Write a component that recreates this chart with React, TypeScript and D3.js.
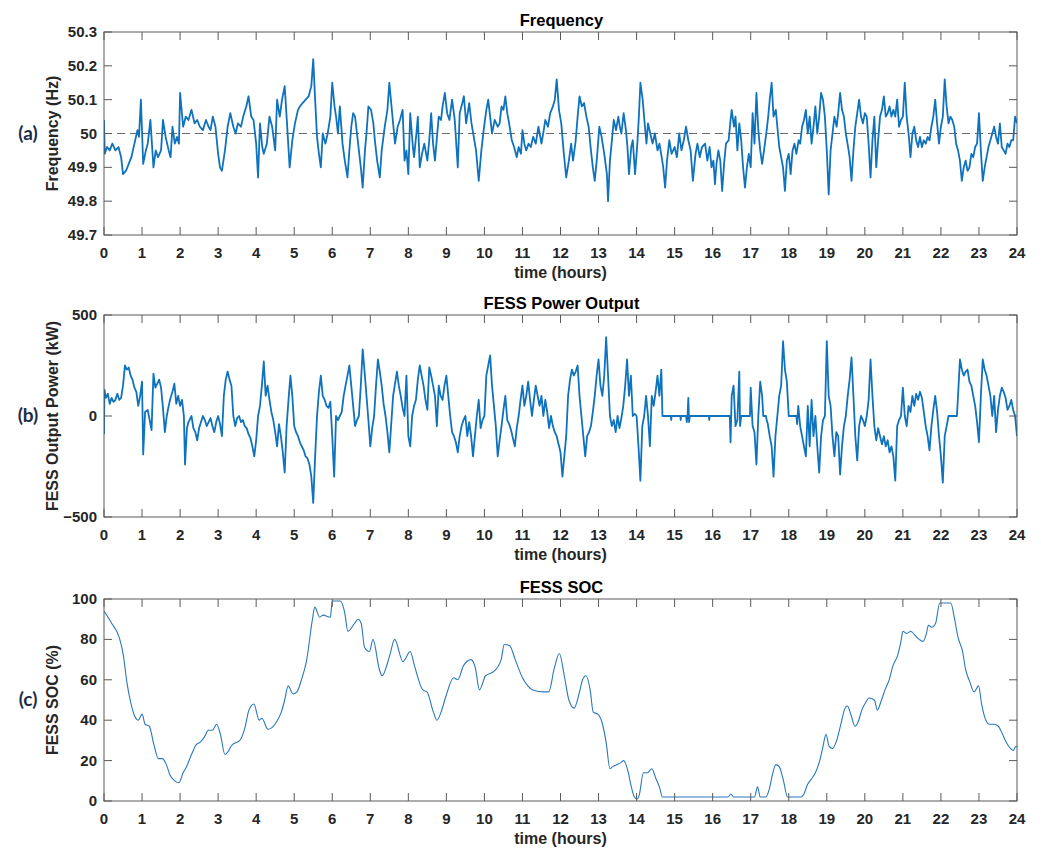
import React from 'react';
import * as d3 from 'd3';

// Axis ticks
const hourTicks = [0, 1, 2, 3, 4, 5, 6, 7, 8, 9, 10, 11, 12, 13, 14, 15, 16, 17, 18, 19, 20, 21, 22, 23, 24];
const freqTicks = [49.7, 49.8, 49.9, 50, 50.1, 50.2, 50.3];
const powerTicks = [-500, 0, 500];
const socTicks = [0, 20, 40, 60, 80, 100];

// Grid frequency (Hz) against time of day (hours)
const frequency: [number, number][] = [
  [0, 50.04], [0.02, 49.94], [0.08, 49.96], [0.15, 49.95], [0.22, 49.97], [0.3, 49.95], [0.38, 49.96], [0.45, 49.93],
  [0.5, 49.88], [0.58, 49.89], [0.65, 49.91], [0.72, 49.93], [0.8, 49.97], [0.88, 50.01], [0.92, 49.99], [0.97, 50.1],
  [1.03, 49.91], [1.1, 49.95], [1.15, 49.97], [1.22, 50.04], [1.3, 49.9], [1.36, 49.95], [1.42, 49.93], [1.5, 49.95],
  [1.55, 50.04], [1.62, 49.99], [1.7, 49.95], [1.75, 49.93], [1.8, 50.02], [1.86, 49.97], [1.92, 49.99], [1.97, 49.97],
  [2.0, 50.12], [2.08, 50.02], [2.15, 50.05], [2.22, 50.04], [2.3, 50.07], [2.38, 50.03], [2.45, 50.04], [2.52, 50.02],
  [2.6, 50.01], [2.68, 50.04], [2.75, 50.02], [2.8, 50.01], [2.86, 50.05], [2.93, 50.02], [3.0, 49.94], [3.05, 49.9],
  [3.1, 49.89], [3.18, 49.95], [3.25, 50.02], [3.32, 50.06], [3.4, 50.02], [3.46, 50.0], [3.52, 50.03], [3.6, 50.02],
  [3.66, 50.05], [3.74, 50.08], [3.8, 50.11], [3.87, 50.05], [3.93, 50.04], [4.0, 49.97], [4.05, 49.87], [4.1, 50.03],
  [4.16, 49.96], [4.2, 49.94], [4.28, 49.97], [4.35, 50.05], [4.42, 50.02], [4.5, 49.95], [4.55, 50.1], [4.62, 50.05],
  [4.68, 50.1], [4.75, 50.14], [4.8, 50.05], [4.88, 49.9], [4.95, 49.98], [5.02, 50.03], [5.1, 50.07], [5.15, 50.08],
  [5.22, 50.09], [5.3, 50.1], [5.38, 50.11], [5.45, 50.14], [5.5, 50.22], [5.55, 50.1], [5.6, 49.99], [5.65, 49.94],
  [5.7, 49.9], [5.75, 50.0], [5.82, 49.97], [5.88, 50.0], [5.95, 50.05], [6.0, 50.15], [6.06, 50.08], [6.1, 50.05],
  [6.15, 50.0], [6.2, 50.08], [6.27, 49.97], [6.33, 49.92], [6.4, 49.87], [6.45, 49.95], [6.5, 50.02], [6.55, 50.06],
  [6.6, 50.05], [6.65, 50.0], [6.7, 49.95], [6.76, 49.89], [6.8, 49.84], [6.86, 49.95], [6.9, 50.0], [6.95, 50.08],
  [7.02, 50.07], [7.08, 50.03], [7.12, 49.98], [7.18, 49.92], [7.25, 49.87], [7.3, 49.95], [7.38, 50.02], [7.45, 50.07],
  [7.5, 50.15], [7.55, 50.09], [7.6, 50.03], [7.65, 49.97], [7.72, 50.02], [7.78, 50.04], [7.85, 50.07], [7.9, 49.92],
  [7.95, 49.95], [8.0, 49.88], [8.05, 50.06], [8.12, 49.96], [8.15, 49.93], [8.22, 50.01], [8.25, 50.05], [8.3, 49.9],
  [8.36, 49.94], [8.42, 49.97], [8.5, 49.92], [8.55, 49.98], [8.6, 50.06], [8.65, 49.97], [8.7, 49.92], [8.76, 50.0],
  [8.8, 50.05], [8.86, 50.04], [8.9, 50.08], [8.96, 50.12], [9.02, 50.06], [9.08, 50.04], [9.15, 50.1], [9.22, 50.04],
  [9.3, 49.9], [9.35, 50.06], [9.42, 50.09], [9.46, 50.11], [9.52, 50.03], [9.6, 50.09], [9.66, 50.03], [9.72, 49.99],
  [9.78, 49.95], [9.85, 49.86], [9.92, 49.95], [9.98, 50.01], [10.05, 50.07], [10.1, 50.1], [10.15, 50.05], [10.2, 50.0],
  [10.27, 50.04], [10.35, 50.02], [10.4, 50.03], [10.45, 50.08], [10.5, 50.07], [10.55, 50.11], [10.6, 50.06], [10.65, 50.03],
  [10.72, 49.98], [10.78, 49.96], [10.85, 49.93], [10.9, 49.96], [10.96, 49.94], [11.0, 50.01], [11.05, 49.97], [11.1, 49.95],
  [11.16, 49.97], [11.22, 49.96], [11.28, 49.99], [11.35, 49.97], [11.42, 50.02], [11.5, 49.97], [11.56, 50.01], [11.6, 50.04],
  [11.67, 50.02], [11.73, 50.06], [11.8, 50.08], [11.85, 50.1], [11.9, 50.16], [11.96, 50.07], [12.02, 50.03], [12.08, 49.95],
  [12.15, 49.87], [12.22, 49.92], [12.28, 49.97], [12.33, 49.92], [12.4, 49.98], [12.45, 50.05], [12.5, 50.11], [12.56, 50.08],
  [12.62, 50.09], [12.68, 50.05], [12.74, 50.02], [12.8, 49.95], [12.85, 49.9], [12.9, 49.86], [12.96, 49.93], [13.02, 50.02],
  [13.08, 49.99], [13.15, 49.94], [13.22, 49.88], [13.25, 49.8], [13.3, 49.92], [13.36, 49.99], [13.4, 50.04], [13.46, 50.01],
  [13.52, 50.05], [13.56, 50.02], [13.6, 50.0], [13.66, 50.06], [13.72, 50.01], [13.76, 49.96], [13.8, 49.88], [13.86, 49.96],
  [13.9, 49.98], [13.96, 49.88], [14.02, 49.97], [14.06, 50.05], [14.1, 50.15], [14.16, 50.1], [14.22, 50.02], [14.26, 49.97],
  [14.3, 50.03], [14.36, 50.0], [14.42, 49.97], [14.48, 50.0], [14.55, 49.95], [14.6, 49.97], [14.66, 49.93], [14.7, 49.9],
  [14.75, 49.84], [14.8, 49.92], [14.86, 49.98], [14.92, 49.94], [15.0, 49.96], [15.06, 49.93], [15.12, 50.0], [15.18, 49.95],
  [15.24, 49.98], [15.3, 50.02], [15.36, 49.98], [15.42, 49.95], [15.48, 49.86], [15.55, 49.94], [15.6, 49.97], [15.66, 49.93],
  [15.72, 49.96], [15.8, 49.97], [15.86, 49.92], [15.92, 49.96], [15.97, 49.9], [16.02, 49.92], [16.06, 49.85], [16.1, 49.91],
  [16.15, 49.95], [16.2, 49.92], [16.25, 49.83], [16.3, 49.91], [16.35, 49.97], [16.42, 49.98], [16.47, 50.04], [16.5, 50.07],
  [16.56, 50.02], [16.6, 50.05], [16.65, 49.95], [16.7, 50.03], [16.75, 49.98], [16.8, 49.9], [16.85, 49.84], [16.9, 49.9],
  [16.95, 49.94], [17.0, 49.9], [17.05, 50.06], [17.1, 49.97], [17.15, 50.12], [17.2, 50.01], [17.25, 49.95], [17.3, 49.91],
  [17.35, 49.95], [17.42, 50.01], [17.46, 50.05], [17.5, 50.1], [17.55, 50.15], [17.6, 50.05], [17.66, 50.07], [17.7, 50.02],
  [17.75, 49.96], [17.8, 49.93], [17.85, 49.9], [17.9, 49.83], [17.95, 49.92], [18.0, 49.94], [18.05, 49.88], [18.1, 49.95],
  [18.15, 49.97], [18.2, 49.94], [18.26, 49.98], [18.3, 49.97], [18.35, 50.02], [18.4, 50.04], [18.45, 50.07], [18.5, 50.0],
  [18.55, 50.05], [18.6, 49.97], [18.66, 50.03], [18.7, 50.08], [18.75, 50.0], [18.8, 50.05], [18.85, 50.12], [18.9, 50.1],
  [18.95, 50.05], [19.0, 49.95], [19.05, 49.82], [19.1, 49.95], [19.15, 50.0], [19.2, 50.05], [19.26, 50.02], [19.3, 50.06],
  [19.35, 50.12], [19.4, 50.07], [19.45, 50.05], [19.5, 50.0], [19.56, 49.96], [19.6, 49.93], [19.65, 49.86], [19.7, 49.95],
  [19.75, 50.02], [19.8, 50.06], [19.85, 50.1], [19.9, 50.05], [19.95, 50.03], [20.0, 50.06], [20.05, 50.05], [20.1, 49.97],
  [20.15, 49.87], [20.2, 49.98], [20.25, 50.05], [20.3, 49.9], [20.35, 49.98], [20.4, 50.05], [20.45, 50.07], [20.5, 50.11],
  [20.55, 50.05], [20.6, 50.06], [20.65, 50.08], [20.7, 50.05], [20.75, 50.07], [20.8, 50.05], [20.85, 50.1], [20.9, 50.02],
  [20.95, 50.04], [21.0, 50.05], [21.05, 50.15], [21.1, 50.05], [21.15, 50.0], [21.2, 49.93], [21.25, 50.0], [21.3, 50.02],
  [21.35, 49.98], [21.4, 49.96], [21.45, 49.99], [21.5, 49.96], [21.55, 49.98], [21.6, 49.97], [21.65, 49.99], [21.7, 49.98],
  [21.75, 50.02], [21.8, 50.05], [21.85, 50.1], [21.9, 50.03], [21.95, 49.97], [22.0, 50.02], [22.05, 50.05], [22.1, 50.16],
  [22.15, 50.08], [22.2, 50.03], [22.25, 50.05], [22.3, 50.04], [22.35, 50.02], [22.4, 49.97], [22.45, 49.95], [22.5, 49.92],
  [22.55, 49.86], [22.6, 49.9], [22.65, 49.92], [22.7, 49.89], [22.75, 49.9], [22.8, 49.94], [22.85, 49.93], [22.9, 49.96],
  [22.95, 49.97], [23.0, 50.06], [23.05, 49.95], [23.1, 49.86], [23.15, 49.9], [23.2, 49.93], [23.25, 49.96], [23.3, 49.98],
  [23.35, 50.0], [23.4, 50.02], [23.45, 49.99], [23.5, 49.97], [23.55, 50.03], [23.6, 49.96], [23.65, 49.95], [23.7, 49.94],
  [23.75, 49.97], [23.8, 49.96], [23.85, 49.98], [23.9, 49.98], [23.95, 50.05], [24.0, 50.03],
];

// Flywheel output power (kW)
const power: [number, number][] = [
  [0, -90], [0.01, 130], [0.05, 90], [0.1, 110], [0.15, 60], [0.2, 90], [0.25, 70], [0.3, 80], [0.35, 110], [0.4, 80],
  [0.45, 90], [0.5, 150], [0.55, 250], [0.6, 230], [0.65, 240], [0.7, 200], [0.75, 180], [0.8, 140], [0.85, 120], [0.9, 50],
  [0.95, 100], [1.0, 170], [1.03, -190], [1.08, 20], [1.15, 30], [1.2, -20], [1.25, -70], [1.3, 210], [1.35, 140], [1.4, 160],
  [1.45, 180], [1.5, 140], [1.55, 40], [1.6, -80], [1.65, 0], [1.7, 50], [1.75, 90], [1.8, 120], [1.85, 160], [1.9, 60],
  [1.95, 100], [2.0, 50], [2.05, 80], [2.1, 0], [2.13, -240], [2.18, -60], [2.22, -30], [2.3, 0], [2.35, -60], [2.4, -80],
  [2.45, -120], [2.5, -60], [2.55, -30], [2.6, 0], [2.65, -20], [2.7, -50], [2.75, -30], [2.8, -10], [2.85, -50], [2.9, -80],
  [2.95, -30], [3.0, 0], [3.05, -40], [3.1, -100], [3.15, 100], [3.2, 180], [3.25, 220], [3.3, 180], [3.35, 150], [3.4, 0],
  [3.45, -50], [3.5, -10], [3.55, 0], [3.6, -30], [3.65, -20], [3.7, -50], [3.75, -60], [3.8, -90], [3.85, -110], [3.9, -150],
  [3.95, -200], [4.0, -120], [4.05, 0], [4.1, 50], [4.15, 150], [4.2, 270], [4.25, 100], [4.3, 150], [4.35, 80], [4.4, 20],
  [4.45, -20], [4.5, -80], [4.55, -150], [4.6, -40], [4.65, -100], [4.7, -180], [4.75, -280], [4.8, -50], [4.85, 80], [4.9, 200],
  [4.95, 100], [5.0, -50], [5.05, -80], [5.1, -100], [5.15, -130], [5.2, -150], [5.25, -170], [5.3, -200], [5.35, -210], [5.4, -240],
  [5.45, -300], [5.5, -430], [5.55, -200], [5.6, 0], [5.65, 120], [5.7, 200], [5.75, 100], [5.8, 80], [5.85, 50], [5.9, 40],
  [5.95, 70], [6.0, -100], [6.05, -300], [6.1, 0], [6.15, -20], [6.2, 0], [6.25, 20], [6.3, 100], [6.35, 150], [6.4, 200],
  [6.45, 250], [6.5, 150], [6.55, 50], [6.6, -50], [6.65, -20], [6.7, 0], [6.75, 150], [6.8, 330], [6.85, 220], [6.9, 100],
  [6.95, -20], [7.0, -150], [7.05, -60], [7.1, 0], [7.15, 150], [7.2, 280], [7.25, 220], [7.3, 150], [7.35, 60], [7.4, 0],
  [7.45, -80], [7.5, -180], [7.55, -40], [7.6, 100], [7.65, 160], [7.7, 220], [7.75, 150], [7.8, 100], [7.85, 40], [7.9, 0],
  [7.95, 200], [8.0, -100], [8.05, -150], [8.1, 0], [8.15, 50], [8.2, 80], [8.25, 180], [8.3, 250], [8.35, 200], [8.4, 150],
  [8.45, 80], [8.5, 30], [8.55, 240], [8.6, 200], [8.65, 150], [8.7, 100], [8.75, -50], [8.8, 150], [8.85, 100], [8.9, 80],
  [8.95, 150], [9.0, 200], [9.05, 100], [9.1, 0], [9.15, -80], [9.2, -100], [9.25, -130], [9.3, -180], [9.35, -100], [9.4, -50],
  [9.45, -20], [9.5, 0], [9.55, -100], [9.6, -30], [9.65, -100], [9.7, -200], [9.75, -100], [9.8, 0], [9.85, 80], [9.9, -60],
  [9.95, -20], [10.0, 0], [10.05, 200], [10.1, 250], [10.15, 300], [10.2, 150], [10.25, 50], [10.3, -50], [10.35, -200], [10.4, -120],
  [10.45, -50], [10.5, 30], [10.55, 100], [10.6, -20], [10.65, -40], [10.7, -70], [10.75, -110], [10.8, -150], [10.85, -60], [10.9, 0],
  [10.95, 80], [11.0, 150], [11.05, 50], [11.1, 100], [11.15, 170], [11.2, 80], [11.25, 0], [11.3, 80], [11.35, 150], [11.4, 100],
  [11.45, 50], [11.5, 100], [11.55, 0], [11.6, 80], [11.65, 20], [11.7, -60], [11.75, 0], [11.8, -50], [11.85, -80], [11.9, -100],
  [11.95, -140], [12.0, -180], [12.05, -300], [12.1, -200], [12.15, -100], [12.2, 100], [12.25, 180], [12.3, 230], [12.35, 200], [12.4, 220],
  [12.45, 250], [12.5, 100], [12.55, 0], [12.6, -100], [12.65, -200], [12.7, -100], [12.75, -80], [12.8, -50], [12.85, 20], [12.9, 100],
  [12.95, 200], [13.0, 280], [13.05, 150], [13.1, 100], [13.15, 200], [13.2, 390], [13.25, 200], [13.3, 0], [13.35, -50], [13.4, -20],
  [13.45, -80], [13.5, 0], [13.55, -60], [13.6, -10], [13.65, 50], [13.7, 150], [13.75, 280], [13.8, 100], [13.85, 200], [13.9, 0],
  [13.95, 10], [14.0, 0], [14.05, -150], [14.1, -320], [14.15, -50], [14.2, 0], [14.25, 100], [14.3, 0], [14.35, -150], [14.4, 100],
  [14.45, 50], [14.5, 120], [14.55, 200], [14.6, 100], [14.65, 230], [14.68, 0], [14.9, 0], [14.91, -20], [14.92, 0], [15.15, 0],
  [15.16, -20], [15.17, 0], [15.3, 0], [15.32, -30], [15.34, 0], [15.36, 90], [15.38, -30], [15.4, 0], [15.9, 0], [15.91, -20],
  [15.92, 0], [16.45, 0], [16.47, -130], [16.5, 100], [16.55, 150], [16.6, -50], [16.65, -20], [16.7, 220], [16.72, -50], [16.75, 0],
  [16.98, 0], [17.0, 140], [17.05, -50], [17.1, -80], [17.15, -240], [17.2, 0], [17.25, 170], [17.3, 100], [17.33, 0], [17.4, 0],
  [17.42, -20], [17.45, -40], [17.5, -100], [17.55, -150], [17.6, -300], [17.65, -100], [17.7, 0], [17.75, 100], [17.8, 150], [17.85, 370],
  [17.9, 230], [17.95, 170], [18.0, 0], [18.2, 0], [18.22, -40], [18.25, 50], [18.3, -50], [18.35, -100], [18.4, -150], [18.45, -200],
  [18.5, 50], [18.55, -150], [18.6, 80], [18.65, -100], [18.7, 0], [18.75, -150], [18.8, -280], [18.85, -100], [18.9, -20], [18.95, 0],
  [19.0, 370], [19.05, 100], [19.1, 50], [19.15, -100], [19.2, -200], [19.25, -80], [19.3, -100], [19.35, -290], [19.4, -150], [19.45, -50],
  [19.5, 0], [19.55, 100], [19.6, 180], [19.65, 290], [19.7, 100], [19.75, -100], [19.8, -220], [19.85, -50], [19.9, 0], [19.95, -20],
  [20.0, -50], [20.05, 0], [20.1, 80], [20.15, 280], [20.2, 100], [20.25, -50], [20.3, -120], [20.35, -60], [20.4, -100], [20.45, -140],
  [20.5, -100], [20.55, -150], [20.6, -120], [20.65, -180], [20.7, -150], [20.75, -200], [20.8, -320], [20.85, -50], [20.9, -20], [20.95, 0],
  [21.0, 140], [21.05, 0], [21.1, -50], [21.15, 50], [21.2, 20], [21.25, 100], [21.3, 50], [21.35, 110], [21.4, 80], [21.45, 120],
  [21.5, 90], [21.55, 20], [21.6, -50], [21.65, -100], [21.7, -170], [21.75, -50], [21.8, 30], [21.85, 100], [21.9, 20], [21.95, -100],
  [22.0, -200], [22.05, -330], [22.1, -100], [22.15, -50], [22.2, 0], [22.42, 0], [22.45, 100], [22.5, 280], [22.55, 230], [22.6, 200],
  [22.65, 220], [22.7, 230], [22.75, 170], [22.8, 150], [22.85, 100], [22.9, 50], [22.95, -30], [23.0, -130], [23.05, 100], [23.1, 280],
  [23.15, 230], [23.2, 200], [23.25, 150], [23.3, 100], [23.35, 0], [23.4, 100], [23.45, -80], [23.5, 30], [23.55, 100], [23.6, 140],
  [23.65, 120], [23.7, 90], [23.75, 30], [23.8, 50], [23.85, 80], [23.9, 30], [23.95, 0], [24.0, -100],
];

// Flywheel state of charge (%)
const soc: [number, number][] = [
  [0, 94], [0.2, 88], [0.4, 81], [0.51, 72], [0.6, 59], [0.7, 49], [0.81, 42], [0.9, 40], [1.0, 43], [1.08, 38],
  [1.19, 37], [1.31, 28], [1.43, 21], [1.53, 21], [1.64, 18], [1.73, 13], [1.86, 10], [1.97, 9], [2.08, 14], [2.17, 17],
  [2.3, 23], [2.43, 28], [2.52, 29], [2.65, 32], [2.74, 35], [2.85, 35], [2.96, 38], [3.06, 33], [3.18, 23], [3.38, 28],
  [3.57, 30], [3.7, 36], [3.81, 45], [3.94, 48], [4.08, 40], [4.15, 41], [4.31, 35.5], [4.53, 39], [4.66, 44], [4.75, 50],
  [4.84, 57], [4.97, 53], [5.07, 54], [5.19, 60], [5.32, 69], [5.48, 90], [5.54, 96], [5.67, 91], [5.76, 92], [5.95, 91],
  [6.0, 99], [6.21, 99], [6.33, 93], [6.41, 84], [6.59, 88], [6.68, 90], [6.76, 88], [6.85, 76], [6.98, 74], [7.07, 80],
  [7.24, 65], [7.31, 62], [7.51, 72], [7.64, 80], [7.86, 69], [8.05, 74], [8.16, 67], [8.38, 55], [8.49, 54], [8.66, 44],
  [8.75, 40], [8.86, 44], [8.99, 52], [9.19, 61], [9.3, 60], [9.45, 67], [9.65, 70], [9.76, 66], [9.87, 55], [10.03, 62],
  [10.24, 64], [10.44, 70], [10.52, 77.5], [10.66, 77], [10.81, 70], [11.0, 61], [11.14, 57], [11.27, 55], [11.55, 54], [11.69, 54],
  [11.84, 66], [11.97, 73], [12.1, 62], [12.22, 50], [12.36, 46], [12.5, 54], [12.58, 60], [12.67, 62], [12.78, 55], [12.86, 44],
  [12.98, 43], [13.09, 39], [13.2, 29], [13.3, 16], [13.37, 17], [13.48, 18], [13.59, 19], [13.66, 20], [13.77, 15], [13.85, 8],
  [13.94, 2], [14.02, 1], [14.07, 3], [14.18, 14], [14.29, 14], [14.4, 16], [14.51, 11], [14.6, 7], [14.68, 2], [16.4, 2],
  [16.48, 3.5], [16.55, 2], [17.1, 2], [17.18, 7], [17.25, 2], [17.4, 2], [17.49, 6], [17.57, 13], [17.66, 18], [17.75, 17],
  [17.85, 11], [17.97, 2], [18.32, 2], [18.41, 4], [18.49, 8], [18.6, 11], [18.7, 14], [18.8, 19], [18.89, 26], [18.98, 33],
  [19.06, 27], [19.15, 26], [19.26, 30], [19.37, 38], [19.46, 45], [19.54, 47], [19.63, 43], [19.74, 37], [19.82, 39], [19.92, 45],
  [20.03, 49], [20.11, 51], [20.25, 50], [20.33, 45], [20.42, 49], [20.53, 55], [20.64, 60], [20.74, 67], [20.86, 72], [20.95, 79],
  [21.0, 84], [21.1, 83], [21.21, 84], [21.32, 82], [21.43, 80], [21.53, 79], [21.62, 83], [21.67, 87], [21.76, 86], [21.86, 88],
  [21.97, 98], [22.26, 98], [22.36, 90], [22.45, 81], [22.57, 74], [22.65, 65], [22.76, 59], [22.87, 54], [22.99, 57], [23.07, 48],
  [23.16, 41], [23.27, 38], [23.4, 38], [23.51, 37], [23.62, 33], [23.72, 29], [23.83, 26], [23.9, 25], [23.97, 27], [24.0, 27],
];

const WIDTH = 1041;
const HEIGHT = 850;
const PLOT_LEFT = 104;
const PLOT_RIGHT = 1017;
const TICK_LEN = 8;
const AXIS_COLOR = '#5a5a5a';
const TEXT_COLOR = '#262626';
const FONT = '"Liberation Sans", Arial, Helvetica, sans-serif';

const x = d3.scaleLinear().domain([0, 24]).range([PLOT_LEFT, PLOT_RIGHT]);

type PanelProps = {
  top: number;
  bottom: number;
  domain: [number, number];
  ticks: number[];
  data: [number, number][];
  title: string;
  ylabel: string;
  letter: string;
  stroke: string;
  strokeWidth: number;
  smooth?: boolean;
  refValue?: number;
};

function Panel({ top, bottom, domain, ticks, data, title, ylabel, letter, stroke, strokeWidth, smooth, refValue }: PanelProps) {
  const y = d3.scaleLinear().domain(domain).range([bottom, top]);
  const line = d3
    .line<[number, number]>()
    .x((d) => x(d[0]))
    .y((d) => y(d[1]))
    .curve(smooth ? d3.curveMonotoneX : d3.curveLinear);
  const mid = (top + bottom) / 2;
  const clipId = `clip-${letter}`;
  return (
    <g>
      <defs>
        <clipPath id={clipId}>
          <rect x={PLOT_LEFT} y={top - 1} width={PLOT_RIGHT - PLOT_LEFT} height={bottom - top + 2} />
        </clipPath>
      </defs>
      {refValue !== undefined && (
        <line
          x1={PLOT_LEFT}
          x2={PLOT_RIGHT}
          y1={y(refValue)}
          y2={y(refValue)}
          stroke="#6b6b6b"
          strokeWidth={1}
          strokeDasharray="8,5"
        />
      )}
      <path
        d={line(data) ?? ''}
        fill="none"
        stroke={stroke}
        strokeWidth={strokeWidth}
        strokeLinejoin="round"
        clipPath={`url(#${clipId})`}
      />
      <rect
        x={PLOT_LEFT}
        y={top}
        width={PLOT_RIGHT - PLOT_LEFT}
        height={bottom - top}
        fill="none"
        stroke={AXIS_COLOR}
        strokeWidth={1}
      />
      {hourTicks.map((h) => (
        <g key={`xt${h}`}>
          <line x1={x(h)} x2={x(h)} y1={bottom} y2={bottom - TICK_LEN} stroke={AXIS_COLOR} />
          <line x1={x(h)} x2={x(h)} y1={top} y2={top + TICK_LEN} stroke={AXIS_COLOR} />
          <text
            x={x(h)}
            y={bottom + 23}
            textAnchor="middle"
            fontFamily={FONT}
            fontWeight="bold"
            fontSize={15}
            fill={TEXT_COLOR}
          >
            {h}
          </text>
        </g>
      ))}
      {ticks.map((t) => (
        <g key={`yt${t}`}>
          <line x1={PLOT_LEFT} x2={PLOT_LEFT + TICK_LEN} y1={y(t)} y2={y(t)} stroke={AXIS_COLOR} />
          <line x1={PLOT_RIGHT} x2={PLOT_RIGHT - TICK_LEN} y1={y(t)} y2={y(t)} stroke={AXIS_COLOR} />
          <text
            x={PLOT_LEFT - 7}
            y={y(t) + 5}
            textAnchor="end"
            fontFamily={FONT}
            fontWeight="bold"
            fontSize={15}
            fill={TEXT_COLOR}
          >
            {d3.format('~g')(t)}
          </text>
        </g>
      ))}
      <text
        x={(PLOT_LEFT + PLOT_RIGHT) / 2 + 1}
        y={top - 6}
        textAnchor="middle"
        fontFamily={FONT}
        fontWeight="bold"
        fontSize={16.5}
        fill="#000"
      >
        {title}
      </text>
      <text
        x={(PLOT_LEFT + PLOT_RIGHT) / 2}
        y={bottom + 43}
        textAnchor="middle"
        fontFamily={FONT}
        fontWeight="bold"
        fontSize={16}
        fill={TEXT_COLOR}
      >
        time (hours)
      </text>
      <text
        transform={`translate(58,${mid}) rotate(-90)`}
        textAnchor="middle"
        fontFamily={FONT}
        fontWeight="bold"
        fontSize={16}
        fill={TEXT_COLOR}
      >
        {ylabel}
      </text>
      <text
        x={28}
        y={mid + 6}
        textAnchor="middle"
        fontFamily='Lato, "Open Sans", sans-serif'
        fontWeight="bold"
        fontSize={19}
        fill="#1d2b48"
      >
        {`(${letter})`}
      </text>
    </g>
  );
}

export default function App() {
  return (
    <svg
      width={WIDTH}
      height={HEIGHT}
      viewBox={`0 0 ${WIDTH} ${HEIGHT}`}
      style={{ position: 'absolute', left: 0, top: 0, background: '#fff' }}
    >
      <rect width={WIDTH} height={HEIGHT} fill="#fff" />
      <Panel
        top={32}
        bottom={235}
        domain={[49.7, 50.3]}
        ticks={freqTicks}
        data={frequency}
        title="Frequency"
        ylabel="Frequency (Hz)"
        letter="a"
        stroke="#0f72bd"
        strokeWidth={1.8}
        refValue={50}
      />
      <Panel
        top={315}
        bottom={517}
        domain={[-500, 500]}
        ticks={powerTicks}
        data={power}
        title="FESS Power Output"
        ylabel="FESS Output Power (kW)"
        letter="b"
        stroke="#0f72bd"
        strokeWidth={1.8}
      />
      <Panel
        top={599}
        bottom={801}
        domain={[0, 100]}
        ticks={socTicks}
        data={soc}
        title="FESS SOC"
        ylabel="FESS SOC (%)"
        letter="c"
        stroke="#2a78bb"
        strokeWidth={1.1}
        smooth
      />
    </svg>
  );
}
